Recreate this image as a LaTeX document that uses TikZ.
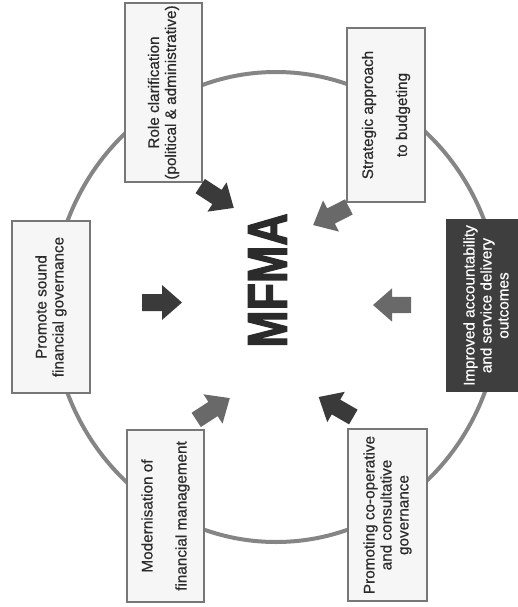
\documentclass[tikz,border=0pt]{standalone}
\usepackage{fontspec}
\setmainfont{Liberation Sans}[FakeBold=0.5]
\newfontfamily\boxtextfont[FakeBold=0.6]{Liberation Sans}
\newfontfamily\mfmafont[FakeStretch=0.8,FakeBold=2]{Liberation Sans Bold}
\definecolor{ringcol}{HTML}{858585}
\definecolor{boxborder}{HTML}{777777}
\definecolor{boxfill}{HTML}{F6F6F6}
\definecolor{darkfill}{HTML}{3E3E3E}
\definecolor{txt}{HTML}{2B2B2B}
\definecolor{arrdark}{HTML}{3A3A3A}
\definecolor{arrmid}{HTML}{696969}
\tikzset{
  box/.style={draw=boxborder, line width=1.1pt, fill=boxfill, rotate=90,
    align=center, text=txt, inner sep=0pt,
    font={\boxtextfont\fontsize{15.3}{17}\selectfont}},
  darkbox/.style={box, fill=darkfill, draw=darkfill, text=white},
  blockarrow/.pic={
    \fill (-20,-8.5) -- (0,-8.5) -- (0,-17.5) -- (20,0) -- (0,17.5) -- (0,8.5) -- (-20,8.5) -- cycle;
  }
}
\begin{document}
\begin{tikzpicture}[x=1pt,y=-1pt]
\useasboundingbox (0,0) rectangle (518,607);
% ring
\draw[ringcol, line width=4pt] (276,307) ellipse [x radius=224, y radius=235];
% boxes
\node[box, minimum width=179pt, minimum height=77pt] (role) at (163.5,92.5)
  {Role clarification\\(political \& administrative)};
\node[box, minimum width=174pt, minimum height=78pt] (strat) at (386,115)
  {Strategic approach\\[17pt]to budgeting};
\node[box, minimum width=172pt, minimum height=78pt] (prom) at (51,307)
  {Promote sound\\financial governance};
\node[darkbox, minimum width=171pt, minimum height=78pt] (impr) at (486,305.5)
  {Improved accountability\\and service delivery\\outcomes};
\node[box, minimum width=172pt, minimum height=77pt] (mod) at (165.5,516)
  {Modernisation of\\[17pt]financial management};
\node[box, minimum width=172pt, minimum height=79pt] (coop) at (387.5,515)
  {Promoting co-operative\\and consultative\\governance};
% centre
\node[rotate=90, inner sep=0pt, text=txt, font={\mfmafont\fontsize{56}{60}\selectfont}] (mfma) at (267.5,280.5) {MFMA};
% arrows
\pic[arrdark, rotate=-33] at (217,197) {blockarrow};
\pic[arrmid, rotate=207] at (331,216) {blockarrow};
\pic[arrdark] at (162,302.5) {blockarrow};
\pic[arrmid, scale=0.95] at (392,305) [rotate=180] {blockarrow};
\pic[arrmid, rotate=33] at (213,409) {blockarrow};
\pic[arrdark, rotate=150] at (336,407) {blockarrow};
\end{tikzpicture}
\end{document}
